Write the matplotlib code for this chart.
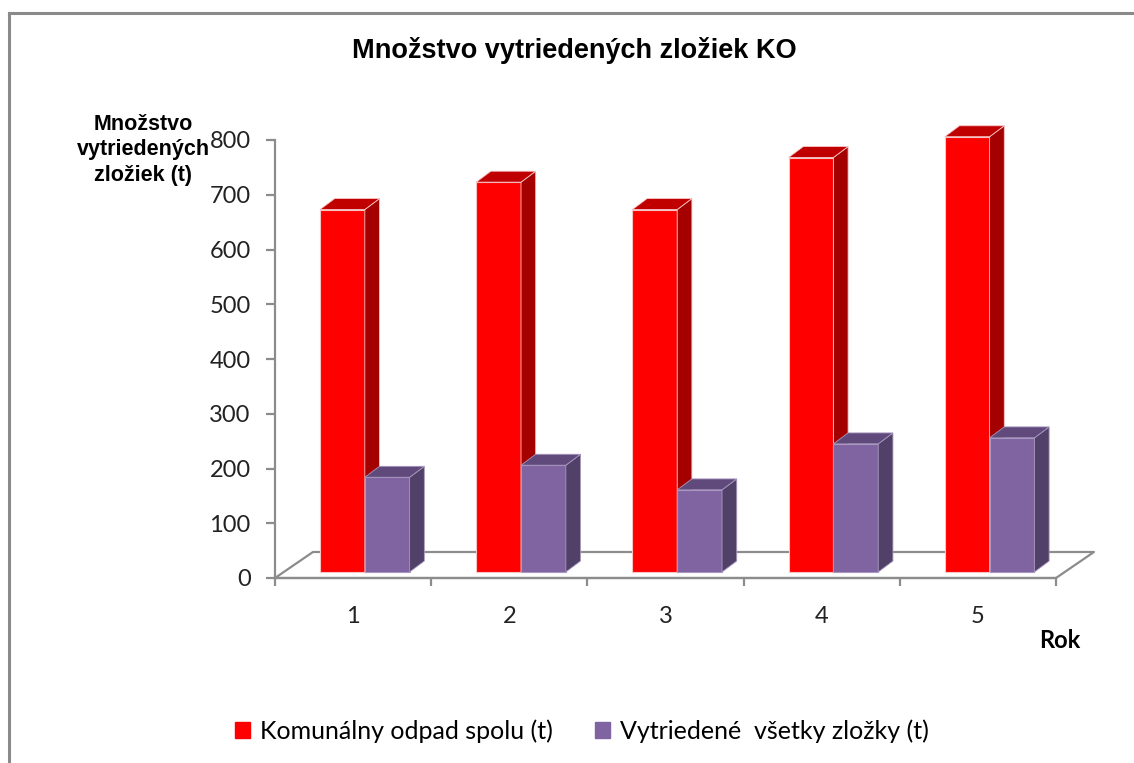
import matplotlib
matplotlib.use("Agg")
import matplotlib.pyplot as plt
from matplotlib.patches import Polygon, Patch
from matplotlib.lines import Line2D

# data
roky = ['1', '2', '3', '4', '5']
komunalny_odpad = [662, 712, 662, 757, 795]
vytriedene_zlozky = [173, 195, 150, 234, 245]
y_ticks = [0, 100, 200, 300, 400, 500, 600, 700, 800]

nazov = "Množstvo vytriedených zložiek KO"
y_nazov = "Množstvo\nvytriedených\nzložiek (t)"
x_nazov = "Rok"
serie = ["Komunálny odpad spolu (t)", "Vytriedené  všetky zložky (t)"]

# colours: front, side, top
red = ('#ff0000', '#a50000', '#c00000')
purple = ('#8064a2', '#514068', '#604a7b')
axis_gray = '#8c8c8c'

narrow = ['Liberation Sans Narrow', 'Liberation Sans', 'DejaVu Sans']
body = ['Lato', 'DejaVu Sans']

W, H = 1134, 763
fig = plt.figure(figsize=(W / 100, H / 100), dpi=100)

# axes placed in pixels: x=-0.5 at px 275, y=0 at px 578, y=800 at px 140
x0, x1 = -0.5, 4.75
px_left, px_right = 275, 275 + (x1 - x0) * 156.2
ax = fig.add_axes([px_left / W, 1 - 578 / H, (px_right - px_left) / W, (578 - 140) / H])
ax.set_xlim(x0, x1)
ax.set_ylim(0, 800)

# 3d geometry (data units)
floor_dx, floor_dy = 0.243, 47.5   # depth of the floor
base = 11                         # bars stand a bit inside the floor
shift = 0.056
side_dx, side_dy = 0.094, 20      # depth of each bar
bar_w = 0.287

# floor outline
fl_x = [x0, 4.5, 4.5 + floor_dx, x0 + floor_dx, x0]
fl_y = [0, 0, floor_dy, floor_dy, 0]
ax.plot(fl_x, fl_y, color=axis_gray, lw=1.6, zorder=1, clip_on=False)


def bar3d(left, value, cols, edge):
    b = base
    t = base + value
    r = left + bar_w
    ax.bar(left, value, width=bar_w, bottom=b, align='edge', color=cols[0],
           edgecolor=edge, linewidth=0.8, zorder=3, clip_on=False)
    side = Polygon([(r, b), (r + side_dx, b + side_dy), (r + side_dx, t + side_dy), (r, t)],
                   closed=True, facecolor=cols[1], edgecolor=edge, lw=0.6, zorder=3, clip_on=False)
    top = Polygon([(left, t), (r, t), (r + side_dx, t + side_dy), (left + side_dx, t + side_dy)],
                  closed=True, facecolor=cols[2], edgecolor=edge, lw=0.6, zorder=3, clip_on=False)
    ax.add_patch(side)
    ax.add_patch(top)


for i in range(len(roky)):
    bar3d(i - 0.268 + shift, komunalny_odpad[i], red, '#f7c4c4')
    bar3d(i - 0.268 + shift + bar_w, vytriedene_zlozky[i], purple, '#a898c0')

# axes styling
for s in ['top', 'right']:
    ax.spines[s].set_visible(False)
ax.spines['left'].set_bounds(0, 800)
ax.spines['bottom'].set_bounds(-0.5, 4.5)
for s in ['left', 'bottom']:
    ax.spines[s].set_color(axis_gray)
    ax.spines[s].set_linewidth(1.6)
ax.set_facecolor('none')

ax.set_yticks(y_ticks)
ax.set_yticklabels([str(v) for v in y_ticks], family=body, fontsize=17, color='#222222')
ax.tick_params(axis='y', length=6.5, width=1.6, color=axis_gray, pad=11)

ax.set_xticks([i - 0.5 for i in range(len(roky) + 1)])
ax.set_xticklabels([])
ax.tick_params(axis='x', which='major', length=6, width=1.6, color=axis_gray)
ax.set_xticks(range(len(roky)), minor=True)
ax.set_xticklabels(roky, minor=True, family=body, fontsize=17, color='#222222')
ax.tick_params(axis='x', which='minor', length=0, pad=20)

# texts
fig.text(574 / W, 1 - 51 / H, nazov, ha='center', va='center', family=narrow,
         fontweight='bold', fontsize=19.5)
fig.text(143 / W, 1 - 150 / H, y_nazov, ha='center', va='center', family=narrow,
         fontweight='bold', fontsize=15.5, linespacing=1.3)
fig.text(1060 / W, 1 - 641 / H, x_nazov, ha='center', va='center', family=body,
         fontweight='bold', fontsize=17)

handles = [Patch(facecolor=red[0], edgecolor=red[0]), Patch(facecolor=purple[0], edgecolor=purple[0])]
fig.legend(handles, serie, loc='center', bbox_to_anchor=(582 / W, 1 - 731 / H), ncol=2,
           frameon=False, prop={'family': body, 'size': 18}, handlelength=0.6,
           handleheight=0.6, handletextpad=0.4, columnspacing=1.7)

# chart frame (only top and left edges are inside the picture)
fig.add_artist(Line2D([9 / W, 1], [1 - 13 / H, 1 - 13 / H], color='#8a8a8a', lw=2.2))
fig.add_artist(Line2D([9 / W, 9 / W], [1 - 13 / H, 0], color='#8a8a8a', lw=2.2))

fig.savefig('out.png', dpi=100)
